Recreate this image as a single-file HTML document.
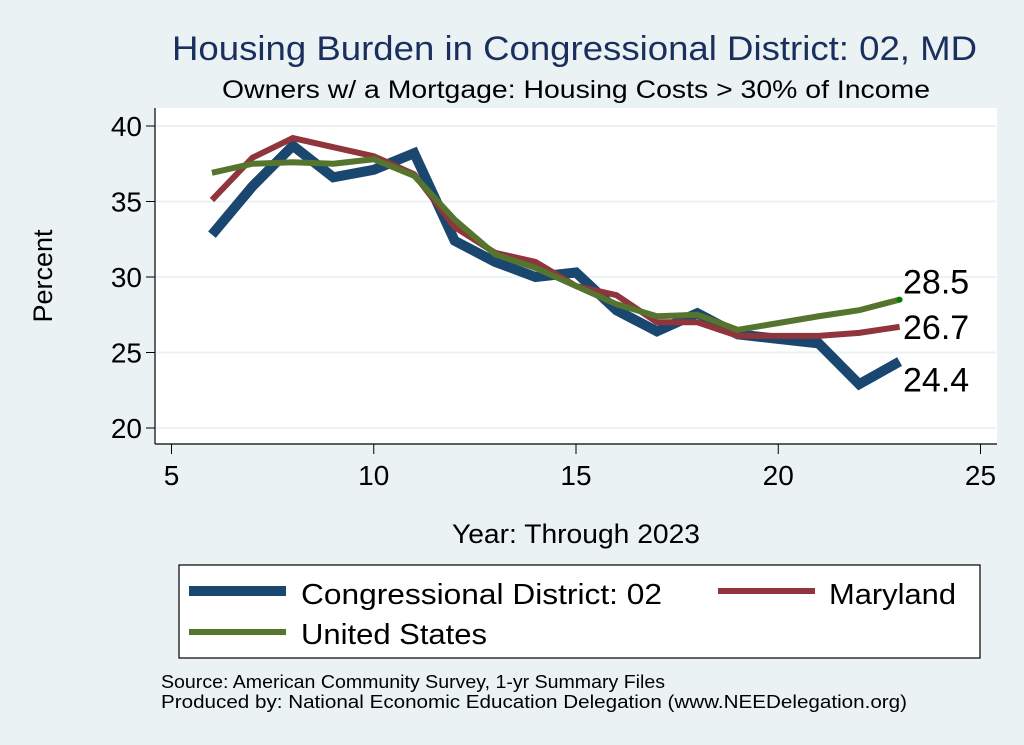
<!DOCTYPE html>
<html><head><meta charset="utf-8">
<style>
html,body{margin:0;padding:0;background:#eaf2f3;}
svg{display:block;font-family:"Liberation Sans",Arial,sans-serif;}
</style></head>
<body>
<svg id="chart" width="1024" height="745" viewBox="0 0 1024 745" xml:space="preserve">
<rect x="0" y="0" width="1024" height="745" fill="#eaf2f3"/>
<text x="172" y="60" textLength="805" lengthAdjust="spacingAndGlyphs" font-size="34" fill="#1a2f5e">Housing Burden in Congressional District:  02, MD</text>
<text x="222" y="98" textLength="708" lengthAdjust="spacingAndGlyphs" font-size="25" fill="#000">Owners w/ a Mortgage: Housing Costs &gt; 30% of Income</text>
<rect x="155" y="108" width="842" height="336" fill="#fff"/>
<g id="grid"></g>
<line x1="155" y1="108" x2="155" y2="444" stroke="#000" stroke-width="1.2"/>
<line x1="155" y1="444" x2="997" y2="444" stroke="#000" stroke-width="1.2"/>
<g id="axes"></g>
<g id="series"></g>
<text x="52" y="276" text-anchor="middle" font-size="27" transform="rotate(-90 52 276)">Percent</text>
<text x="452" y="543" textLength="248" lengthAdjust="spacingAndGlyphs" font-size="27">Year: Through 2023</text>
<g>
<rect x="179" y="565" width="801" height="93" fill="#fff" stroke="#000" stroke-width="1.2"/>
<g>
<line x1="189" y1="591" x2="286" y2="591" stroke="#1a476f" stroke-width="10"/>
<text x="301" y="604" textLength="361" lengthAdjust="spacingAndGlyphs" font-size="29">Congressional District:  02</text></g>
<g>
<line x1="718" y1="591" x2="815" y2="591" stroke="#90353b" stroke-width="6"/>
<text x="829" y="604" textLength="127" lengthAdjust="spacingAndGlyphs" font-size="29">Maryland</text></g>
<g>
<line x1="189" y1="632" x2="286" y2="632" stroke="#55752f" stroke-width="6"/>
<text x="301" y="644" textLength="186" lengthAdjust="spacingAndGlyphs" font-size="29">United States</text></g>
</g>
<text x="161" y="688" textLength="504" lengthAdjust="spacingAndGlyphs" font-size="18">Source: American Community Survey, 1-yr Summary Files</text>
<text x="161" y="708" textLength="746" lengthAdjust="spacingAndGlyphs" font-size="18">Produced by: National Economic Education Delegation (www.NEEDelegation.org)</text>
</svg>
<script>
const years = [6,7,8,9,10,11,12,13,14,15,16,17,18,19,21,22,23];
const district = [32.8,36.0,38.7,36.6,37.1,38.2,32.4,31.0,30.0,30.3,27.8,26.4,27.6,26.2,25.6,22.9,24.4];
const maryland = [35.1,37.9,39.2,38.6,38.0,36.8,33.3,31.6,31.0,29.4,28.8,27.0,27.0,26.1,26.1,26.3,26.7];
const unitedStates = [36.9,37.5,37.6,37.5,37.8,36.7,33.8,31.5,30.6,29.4,28.2,27.4,27.5,26.5,27.4,27.8,28.5];
const xTicks = [5,10,15,20,25];
const yTicks = [20,25,30,35,40];
const NS="http://www.w3.org/2000/svg";
function xs(v){return 171.5+(v-5)*40.45;}
function ys(v){return 428-(v-20)*15.1;}
function mk(tag,attrs,parent){const e=document.createElementNS(NS,tag);for(const k in attrs)e.setAttribute(k,attrs[k]);parent.appendChild(e);return e;}
const grid=document.getElementById('grid'),axes=document.getElementById('axes'),ser=document.getElementById('series');
yTicks.forEach(t=>{
  const g=mk('line',{x1:156,x2:996,y1:ys(t),y2:ys(t),stroke:'#eaf2f3','stroke-width':2},grid);
  
  
  const tk=mk('line',{x1:146,x2:155,y1:ys(t),y2:ys(t),stroke:'#000','stroke-width':1},axes);
  
  
  const tx=mk('text',{x:142,y:ys(t)+10,'text-anchor':'end','font-size':28},axes);
  tx.textContent=t;
  
  
});
xTicks.forEach(t=>{
  const tk=mk('line',{x1:xs(t),x2:xs(t),y1:444,y2:454,stroke:'#000','stroke-width':1},axes);
  
  
  const tx=mk('text',{x:xs(t),y:485,'text-anchor':'middle','font-size':28},axes);
  tx.textContent=t;
  
  
});
function line(vals,color,w,name){
  const p=mk('polyline',{points:vals.map((v,i)=>xs(years[i])+','+ys(v)).join(' '),fill:'none',stroke:color,'stroke-width':w,'stroke-linejoin':'miter'},ser);
  
  
}
line(district,'#1a476f',10,'district-line');
line(maryland,'#90353b',6,'maryland-line');
line(unitedStates,'#55752f',6,'us-line');
const last=years.length-1;
const dot=mk('circle',{cx:xs(years[last]),cy:ys(unitedStates[last]),r:3,fill:'#008000'},ser);


[[unitedStates,-6,'us-end-label'],[maryland,12,'maryland-end-label'],[district,30,'district-end-label']].forEach(([arr,dy,name])=>{
  const t=mk('text',{x:903,y:ys(arr[last])+dy,'font-size':34},ser);
  t.textContent=arr[last].toFixed(1);
  
  
});
</script>
</body></html>
